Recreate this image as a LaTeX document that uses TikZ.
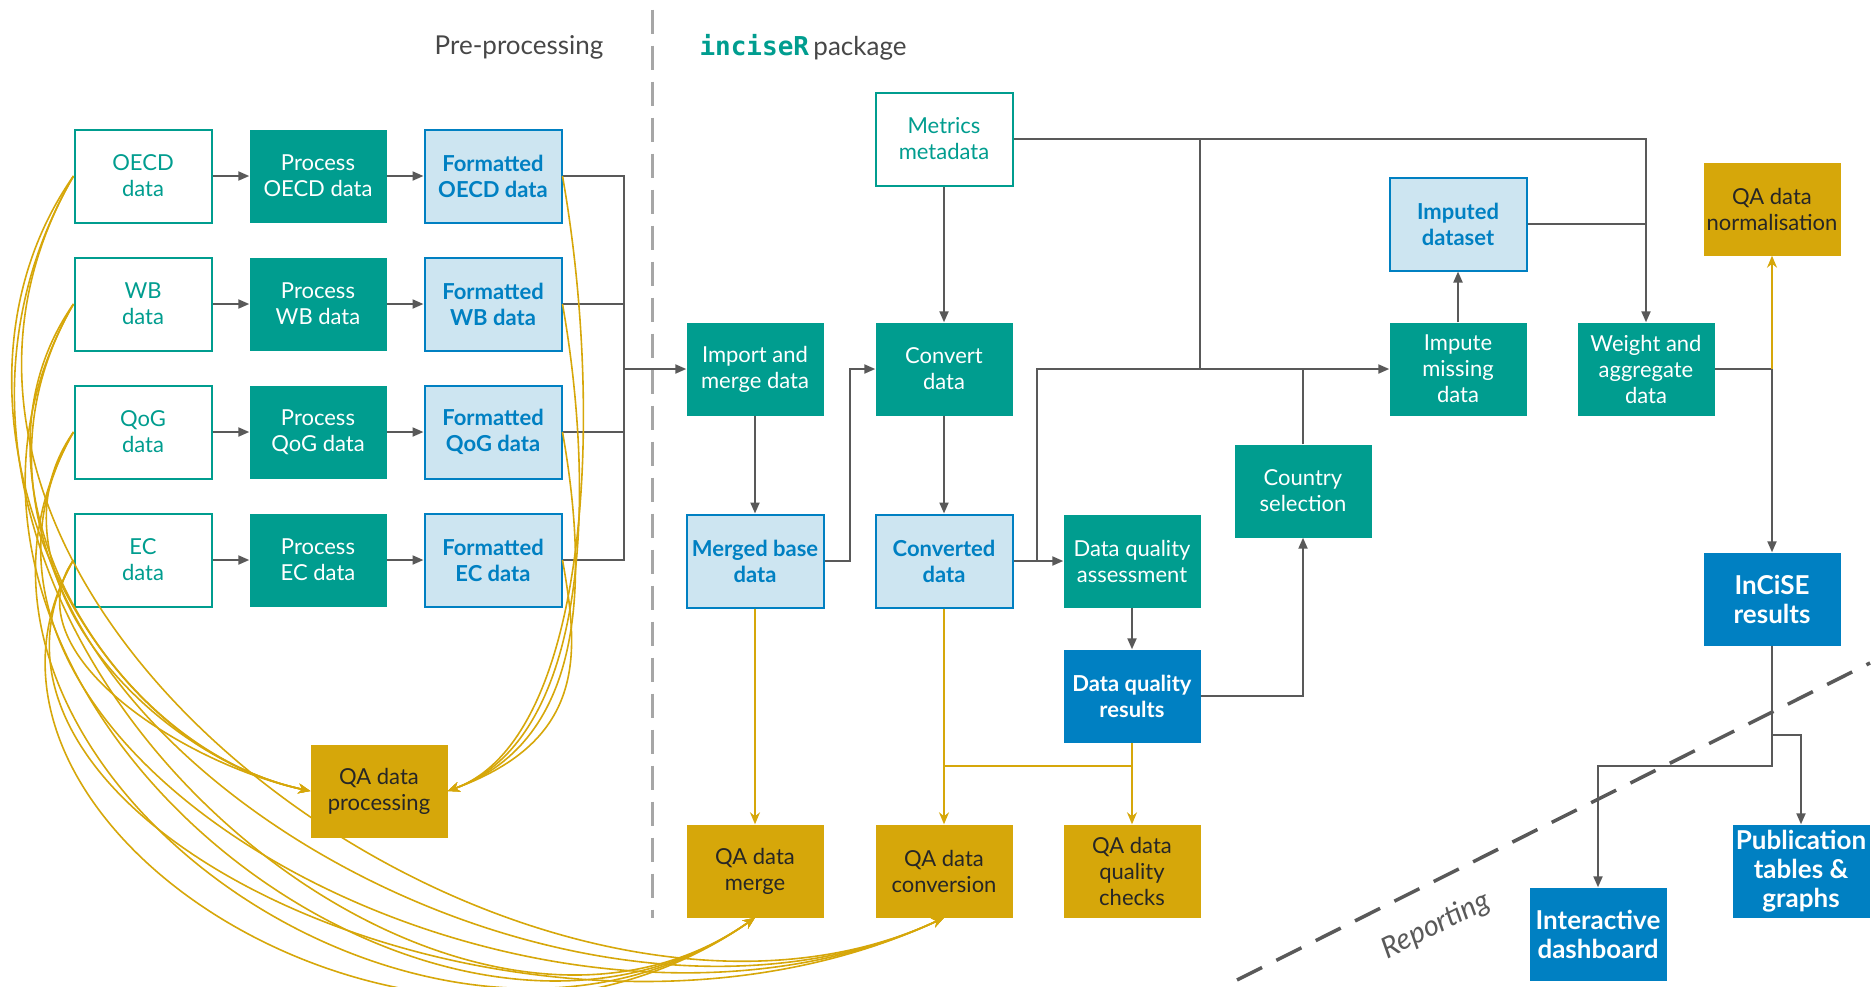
\documentclass[tikz,border=0pt]{standalone}
\usepackage{fontspec}
\setsansfont{Lato}
\setmonofont{DejaVu Sans Mono}
\usepackage{xcolor}
\usepackage{tikz}
\usetikzlibrary{arrows.meta}

\definecolor{inciseteal}{HTML}{009D8F}
\definecolor{inciseblue}{HTML}{0080C2}
\definecolor{incisepale}{HTML}{CDE5F1}
\definecolor{incisegold}{HTML}{D6A70A}
\definecolor{linegrey}{HTML}{595959}

\begin{document}
\begin{tikzpicture}[x=1pt,y=1pt,font=\sffamily\fontsize{22}{26}\selectfont,
	box/.style={minimum width=137pt,minimum height=93pt,inner sep=2pt,align=center},
	srcbox/.style={box,draw=inciseteal,line width=2pt,fill=white,text=inciseteal},
	procbox/.style={box,fill=inciseteal,text=white},
	fmtbox/.style={box,draw=inciseblue,line width=2pt,fill=incisepale,text=inciseblue,font=\sffamily\bfseries\fontsize{22}{26}\selectfont},
	resbox/.style={box,fill=inciseblue,text=white,font=\sffamily\bfseries\fontsize{22}{26}\selectfont},
	bigbox/.style={resbox,font=\sffamily\bfseries\fontsize{26}{29}\selectfont},
	qabox/.style={box,fill=incisegold,text=black!85},
	conn/.style={line width=2pt,linegrey,-{Triangle[length=11pt,width=9pt]}},
	link/.style={line width=2pt,linegrey},
	qaconn/.style={line width=1.6pt,incisegold,-{Stealth[length=12pt,width=10pt]}},
	qalink/.style={line width=1.6pt,incisegold}]
		\useasboundingbox (0,0) rectangle (1874,-986);
		
		% section headers
		\draw[line width=3pt,black!35,dash pattern=on 24pt off 12pt] (652.6,-9.6) -- (652.6,-918);
		\node[text=black!72,font=\sffamily\fontsize{26}{30}\selectfont] (pretitle) at (519,-47) {Pre-processing};
		\node[anchor=west,text=black!72,font=\sffamily\fontsize{26}{30}\selectfont] (pkgtitle) at (696,-47) {\textcolor{inciseteal}{\ttfamily\bfseries inciseR}\,package};
		
		% package nodes
		\node[procbox] (import) at (755,-369) {Import and\\merge data};
		\node[srcbox] (metrics) at (944,-139) {Metrics\\metadata};
		\node[procbox] (convert) at (944,-369) {Convert\\data};
		\node[fmtbox] (merged) at (755,-561) {Merged base\\data};
		\node[fmtbox] (converted) at (944,-561) {Converted\\data};
		\node[procbox] (dqassess) at (1132,-561) {Data quality\\assessment};
		\node[resbox] (dqresults) at (1132,-696) {Data quality\\results};
		\node[procbox] (country) at (1303,-491) {Country\\selection};
		\node[procbox] (impute) at (1458,-369) {Impute\\missing\\data};
		\node[fmtbox] (imputed) at (1458,-224) {Imputed\\dataset};
		\node[procbox] (weight) at (1646,-369) {Weight and\\aggregate\\data};
		\node[qabox] (qanorm) at (1772,-209) {QA data\\normalisation};
		\node[bigbox] (incise) at (1772,-599) {InCiSE\\results};
		\node[qabox] (qaproc) at (379,-791) {QA data\\processing};
		\node[qabox] (qamerge) at (755,-871) {QA data\\merge};
		\node[qabox] (qaconv) at (944,-871) {QA data\\conversion};
		\node[qabox] (qadq) at (1132,-871) {QA data\\quality\\checks};
		\node[bigbox] (dashb) at (1598,-934) {Interactive\\dashboard};
		\node[bigbox] (pub) at (1801,-871) {Publication\\tables \&\\graphs};
		
		% pre-processing rows
		\coordinate (join) at (624,-369);
		\foreach \s/\lbl/\yy in {oecd/OECD/176,wb/WB/304,qog/QoG/432,ec/EC/560}{
			\node[srcbox] (\s) at (143,-\yy) {\lbl\\data};
			\node[procbox] (proc\s) at (318,-\yy) {Process\\\lbl\ data};
			\node[fmtbox] (fmt\s) at (493,-\yy) {Formatted\\\lbl\ data};
			\draw[conn] (\s) -- (proc\s);
			\draw[conn] (proc\s) -- (fmt\s);
			\draw[link] (fmt\s.east) -| (join);
		}
		\draw[conn] (join) -- (import);
		
		% QA curves
		\foreach \s/\yy in {oecd/176,wb/304,qog/432,ec/560}{
			\pgfmathsetmacro\da{0.4*(791-\yy)+20}
			\pgfmathsetmacro\db{0.3*(791-\yy)+60}
			\pgfmathsetmacro\dc{500-0.5*(\yy-176)}
			\draw[qaconn] (\s.west) to[out=235,in=168,out distance=\da pt,in distance=\db pt] (qaproc.west);
			\draw[qaconn] (\s.west) to[out=240,in=215,out distance=\dc pt,in distance=400pt] (qamerge.south);
			\draw[qaconn] (\s.west) to[out=240,in=205,out distance=\dc pt,in distance=450pt] (qaconv.south);
			\pgfmathsetmacro\dd{0.4*(791-\yy)}
			\draw[qaconn] (fmt\s.east) to[out=-80,in=20,out distance=\dd pt,in distance=150pt] (qaproc.east);
		}
		
		% package flow
		\draw[conn] (import) -- (merged);
		\draw[conn] (merged.east) -- ++(25,0) |- (convert.west);
		\draw[conn] (metrics) -- (convert);
		\draw[conn] (convert) -- (converted);
		\draw[conn] (converted) -- (dqassess);
		\coordinate (cvup) at (1037,-561);
		\draw[conn] (cvup) |- (impute.west);
		\draw[link] (metrics.east -| 1200,0) -- (1200,-369);
		\draw[conn] (metrics.east) -| (weight.north);
		\draw[link] (country.north) -- (country.north |- impute.west);
		\draw[conn] (dqassess) -- (dqresults);
		\draw[conn] (dqresults.east) -| (country.south);
		\draw[conn] (impute) -- (imputed);
		\draw[link] (imputed.east) -- (imputed.east -| weight.north);
		\coordinate (wj) at (incise.north |- weight.east);
		\draw[link] (weight.east) -- (wj);
		\draw[qaconn] (wj) -- (qanorm.south);
		\draw[conn] (wj) -- (incise.north);
		
		% QA links
		\draw[qaconn] (merged) -- (qamerge);
		\draw[qaconn] (converted) -- (qaconv);
		\draw[qaconn] (dqresults) -- (qadq);
		\draw[qalink] (converted.south |- 0,-766) -- (dqresults.south |- 0,-766);
		
		% reporting
		\coordinate (rj) at (incise.south |- 0,-766);
		\draw[conn] (incise.south) -- (rj) -| (dashb.north);
		\draw[conn] (incise.south |- 0,-735) -| (pub.north);
		\draw[line width=3.5pt,linegrey,dash pattern=on 28pt off 16pt] (1237,-980) -- (1870,-663);
		\node[rotate=26.6,text=linegrey,font=\sffamily\itshape\fontsize{29}{33}\selectfont] (reptext) at (1436,-926) {Reporting};
	\end{tikzpicture}
\end{document}
